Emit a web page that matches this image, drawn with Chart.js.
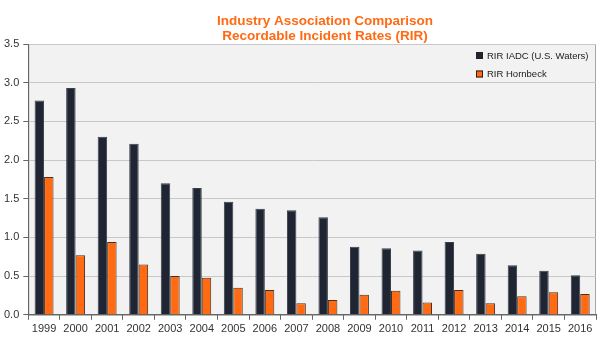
<!DOCTYPE html>
<html>
<head>
<meta charset="utf-8">
<script src="https://cdn.jsdelivr.net/npm/chart.js@4/dist/chart.umd.min.js"></script>
<style>
  html, body { margin: 0; padding: 0; background: #fff; }
  #wrap { width: 600px; height: 342px; }
</style>
</head>
<body>
<div id="wrap"><canvas id="rirChart"></canvas></div>
<script>
"use strict";

const years = ['1999', '2000', '2001', '2002', '2003', '2004', '2005', '2006', '2007',
    '2008', '2009', '2010', '2011', '2012', '2013', '2014', '2015', '2016'];
const rirIadc = [2.77, 2.93, 2.30, 2.21, 1.70, 1.64, 1.46, 1.37, 1.35,
    1.26, 0.88, 0.86, 0.83, 0.94, 0.79, 0.64, 0.57, 0.51];
const rirHornbeck = [1.78, 0.77, 0.94, 0.65, 0.50, 0.48, 0.35, 0.32, 0.15,
    0.19, 0.26, 0.31, 0.16, 0.32, 0.15, 0.24, 0.29, 0.27];
const yTicks = [0, 0.5, 1.0, 1.5, 2.0, 2.5, 3.0, 3.5];
const titleLines = ['Industry Association Comparison', 'Recordable Incident Rates (RIR)'];

const FONT = 'Arial, "Liberation Sans", sans-serif';

// grey plot background with a thin frame
const plotBackground = {
    id: 'plotBackground',
    beforeDraw(chart) {
        const a = chart.chartArea;
        const ctx = chart.ctx;
        ctx.save();
        ctx.fillStyle = '#f2f2f2';
        ctx.fillRect(a.left, a.top, a.right - a.left, a.bottom - a.top);
        ctx.strokeStyle = '#a6a6a6';
        ctx.lineWidth = 1;
        ctx.strokeRect(a.left + 0.5, a.top + 0.5, a.right - a.left - 1, a.bottom - a.top);
        ctx.restore();
    }
};

// title sits a bit right of the canvas centre, like the original
const offsetTitle = {
    id: 'offsetTitle',
    afterDraw(chart) {
        const ctx = chart.ctx;
        ctx.save();
        ctx.font = 'bold 13.5px ' + FONT;
        ctx.fillStyle = '#ff6a13';
        ctx.textAlign = 'center';
        ctx.textBaseline = 'middle';
        titleLines.forEach((t, i) => ctx.fillText(t, 325, 21 + i * 15));
        ctx.restore();
    }
};

// legend stacked in the top right corner of the plot
const cornerLegend = {
    id: 'cornerLegend',
    afterDraw(chart) {
        const ctx = chart.ctx;
        const a = chart.chartArea;
        ctx.save();
        ctx.font = '9.5px ' + FONT;
        ctx.textBaseline = 'middle';
        chart.data.datasets.forEach((ds, i) => {
            const y = a.top + 11.5 + i * 18.5;
            const x = 476;
            ctx.fillStyle = ds.backgroundColor;
            ctx.fillRect(x, y - 3.5, 7, 7);
            ctx.strokeStyle = '#222';
            ctx.strokeRect(x + 0.5, y - 3, 6, 6);
            ctx.fillStyle = '#1a1a1a';
            ctx.fillText(ds.label, x + 11, y + 0.5);
        });
        ctx.restore();
    }
};

const ctx = document.getElementById('rirChart');
new Chart(ctx, {
    type: 'bar',
    data: {
        labels: years,
        datasets: [{
            label: 'RIR IADC (U.S. Waters)',
            data: rirIadc,
            backgroundColor: '#1f2533',
            borderColor: '#3a3f48',
            borderWidth: 1
        }, {
            label: 'RIR Hornbeck',
            data: rirHornbeck,
            backgroundColor: '#ff6a13',
            borderColor: '#4a3020',
            borderWidth: 1
        }]
    },
    options: {
        responsive: true,
        maintainAspectRatio: false,
        animation: false,
        datasets: {
            bar: {
                categoryPercentage: 0.6,
                barPercentage: 1.0
            }
        },
        layout: {
            padding: { left: 0, right: 4, top: 44, bottom: 3 }
        },
        plugins: {
            legend: { display: false },
            tooltip: { enabled: false },
            title: { display: false }
        },
        scales: {
            x: {
                offset: true,
                grid: {
                    offset: true,
                    drawOnChartArea: false,
                    drawTicks: true,
                    tickLength: 5,
                    tickColor: '#666'
                },
                border: { color: '#666' },
                ticks: {
                    color: '#333',
                    maxRotation: 0,
                    autoSkip: false,
                    padding: 3,
                    font: { family: FONT, size: 11 }
                }
            },
            y: {
                min: 0,
                max: 3.5,
                afterBuildTicks(axis) {
                    axis.ticks = yTicks.map(v => ({ value: v }));
                },
                grid: {
                    color: '#c8c8c8',
                    tickColor: '#666',
                    tickLength: 5
                },
                border: { color: '#666' },
                ticks: {
                    color: '#333',
                    padding: 4,
                    font: { family: FONT, size: 11 },
                    callback: v => Number(v).toFixed(1)
                }
            }
        }
    },
    plugins: [plotBackground, offsetTitle, cornerLegend]
});
</script>
</body>
</html>
